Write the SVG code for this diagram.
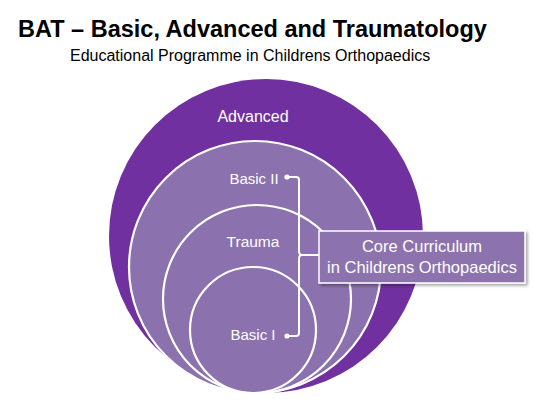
<svg xmlns="http://www.w3.org/2000/svg" width="533" height="403" viewBox="0 0 533 403">
<style>
.t{font-family:"Liberation Sans",Arial,sans-serif;fill:#000}
.w{font-family:"Liberation Sans",Arial,sans-serif;fill:#fff;text-anchor:middle}
.inner{fill:#8B71AD;stroke:#fff;stroke-width:2.2}
.con{fill:none;stroke:#fff;stroke-width:2;stroke-linejoin:round}
</style>
<defs>
<filter id="sh" x="-10%" y="-20%" width="130%" height="150%">
<feDropShadow dx="2" dy="2" stdDeviation="1.5" flood-color="#000" flood-opacity="0.35"/>
</filter>
</defs>
<rect width="533" height="403" fill="#fff"/>
<text class="t" x="18" y="37" font-size="23.5" font-weight="bold">BAT – Basic, Advanced and Traumatology</text>
<text class="t" x="70" y="61" font-size="16">Educational Programme in Childrens Orthopaedics</text>
<g id="advanced">
<circle cx="266" cy="236" r="157" fill="#7030A0"/>
<text class="w" x="253" y="122" font-size="16">Advanced</text>
</g>
<g id="basic2">
<circle class="inner" cx="255" cy="267" r="126"/>
<text class="w" x="254" y="184" font-size="15">Basic II</text>
</g>
<g id="trauma">
<circle class="inner" cx="257" cy="299" r="94"/>
<text class="w" x="253" y="247" font-size="15.5">Trauma</text>
</g>
<g id="basic1">
<circle class="inner" cx="253" cy="330" r="63"/>
<text class="w" x="253" y="340" font-size="15">Basic I</text>
</g>
<g id="connectors">
<circle cx="287" cy="177" r="2.6" fill="#fff"/>
<circle cx="287" cy="336" r="2.6" fill="#fff"/>
<path class="con" d="M287,177 H296 Q299,177 299,180 V251 Q299,255 302,255 M299,259 Q299,255 302,255 H319 M299,259 V333 Q299,336 296,336 H287"/>
</g>
<g id="core">
<rect x="319" y="231" width="206" height="52" fill="#8D73AE" stroke="#fff" stroke-width="1.5" filter="url(#sh)"/>
<text class="w" x="422" y="252" font-size="16.5">Core Curriculum</text>
<text class="w" x="422" y="273" font-size="16.5">in Childrens Orthopaedics</text>
</g>
</svg>
